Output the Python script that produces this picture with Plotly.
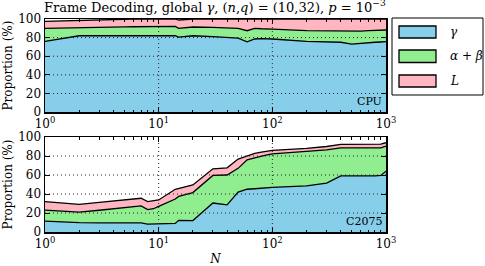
import plotly.graph_objects as go

N = [1, 2, 3, 4, 5, 6, 7, 8, 9, 10, 14, 15, 20, 30, 40, 50, 60, 70, 80, 90,
     100, 200, 300, 400, 500, 600, 700, 800, 900, 1000]

# CPU panel (proportions in %)
cpu_gamma = [76, 82, 82, 82, 82.3, 82.3, 82.5, 82.5, 82.5, 82.5, 82, 80.6, 82, 81, 80.5,
             79.5, 75.5, 78.5, 79, 79, 78.5, 76, 75.5, 75, 73, 74, 74.5, 75, 75.3, 75.6]
cpu_ab = [14, 9, 9.3, 9.5, 9.3, 9.4, 9.3, 9.3, 9.3, 9.5, 10, 9.4, 9.4, 10, 10,
          10.5, 11.9, 11.5, 10.5, 10.5, 10.7, 11.5, 11.9, 12.4, 13.7, 13, 13, 13, 12.7, 12.6]
cpu_L = [7.5, 7.7, 8.2, 8.3, 8.4, 8.3, 8.2, 8.2, 8.2, 8, 8, 8.9, 8.6, 9, 9.5,
         10, 12.6, 10, 10.5, 10.5, 10.8, 12.5, 12.6, 12.6, 13.3, 13, 12.5, 12, 12, 11.8]

# C2075 panel (proportions in %)
gpu_gamma = [11.5, 9.8, 9.7, 9.6, 9.6, 9.5, 9.5, 8.3, 8.3, 9, 9, 12.3, 12, 30.5, 28.5,
             42, 45, 45.5, 46, 46.5, 47, 48.5, 51.5, 59, 59, 58.5, 58.5, 59, 59.5, 64]
gpu_ab = [11.5, 11.2, 13.2, 15, 16.1, 17.1, 18, 15.2, 16.2, 18, 25.7, 25.2, 29.5, 29, 31.5,
          25, 31, 32.5, 34, 34.7, 35.3, 36.1, 35, 29.5, 29.5, 29.5, 29.5, 29, 29, 26.5]
gpu_L = [9, 8, 8.2, 8, 8.1, 8.1, 8, 8.5, 8, 6.7, 10.3, 8.5, 8, 7, 7.5,
         9.8, 4.5, 4.8, 4, 3.8, 3.7, 3.4, 3.5, 3.8, 3.8, 4.3, 4.3, 4.3, 4, 3.5]

names = ["<i>γ</i>", "<i>α</i> + <i>β</i>", "<i>L</i>"]
colors = ["#87CEEB", "#90EE90", "#FFB6C1"]

x_ticks = [1, 10, 100, 1000]
x_ticktext = ["10<sup>0</sup>", "10<sup>1</sup>", "10<sup>2</sup>", "10<sup>3</sup>"]
minor_vals = [m * 10 ** d for d in range(3) for m in range(2, 10)]
y_ticks = [0, 20, 40, 60, 80, 100]
x_grid = [10, 100]
y_grid = [20, 40, 60, 80]

FONT = "DejaVu Serif"
W, H = 485, 266
ML, MR, MT, MB = 45, 99, 19, 34
PW, PH = W - ML - MR, H - MT - MB

def px2paper(x, y):
    return (x - ML) / PW, (H - MB - y) / PH

fig = go.Figure()

for vals, name, col in zip([cpu_gamma, cpu_ab, cpu_L], names, colors):
    fig.add_trace(go.Scatter(x=N, y=vals, stackgroup="cpu", name=name, mode="lines",
                             line=dict(color="black", width=1.3), fillcolor=col,
                             showlegend=False, xaxis="x", yaxis="y"))
for vals, name, col in zip([gpu_gamma, gpu_ab, gpu_L], names, colors):
    fig.add_trace(go.Scatter(x=N, y=vals, stackgroup="gpu", name=name, mode="lines",
                             line=dict(color="black", width=1.3), fillcolor=col,
                             showlegend=False, xaxis="x2", yaxis="y2"))

top_dom = [0.563, 1.0]
bot_dom = [0.0, 0.446]

def xaxis(anchor, title=None):
    d = dict(type="log", range=[0, 3], domain=[0, 1], anchor=anchor, automargin=False,
             tickvals=x_ticks, ticktext=x_ticktext, ticks="inside", ticklen=5,
             tickcolor="black", mirror="allticks", showline=True, linecolor="black",
             linewidth=1.5, showgrid=False, layer="above traces",
             tickfont=dict(family=FONT, size=12, color="black"), zeroline=False,
             minor=dict(tickvals=minor_vals, ticks="inside", ticklen=2.5, tickcolor="black",
                        showgrid=False))
    if title:
        d["title"] = dict(text=title, font=dict(family=FONT, size=12, color="black"), standoff=10)
    return d

def yaxis(dom, anchor):
    return dict(range=[0, 100], domain=dom, anchor=anchor, tickvals=y_ticks, automargin=False,
                ticks="inside", ticklen=5, tickcolor="black", mirror="allticks",
                showline=True, linecolor="black", linewidth=1.5, showgrid=False,
                zeroline=False, layer="above traces",
                tickfont=dict(family=FONT, size=12, color="black"),
                title=dict(text="Proportion (%)", font=dict(family=FONT, size=12, color="black"),
                           standoff=3))

shapes = []
grid_line = dict(color="#222222", width=1, dash="1px,3px")
for xr, yr in [("x", "y"), ("x2", "y2")]:
    for gx in x_grid:
        shapes.append(dict(type="line", xref=xr, yref=yr + " domain", x0=gx, x1=gx,
                           y0=0, y1=1, line=grid_line, layer="above"))
    for gy in y_grid:
        shapes.append(dict(type="line", xref=xr + " domain", yref=yr, x0=0, x1=1,
                           y0=gy, y1=gy, line=grid_line, layer="above"))

# legend drawn as a boxed key
lx0, ly0 = px2paper(392, 18)
lx1, ly1 = px2paper(483, 95)
shapes.append(dict(type="rect", xref="paper", yref="paper", x0=lx0, x1=lx1, y0=ly1, y1=ly0,
                   line=dict(color="black", width=1), fillcolor="white", layer="above"))
annotations = []
sw_y = [(26, 38), (50, 62.5), (75, 87)]
for (ya, yb), name, col in zip(sw_y, names, colors):
    sx0, sy0 = px2paper(399, ya)
    sx1, sy1 = px2paper(436, yb)
    shapes.append(dict(type="rect", xref="paper", yref="paper", x0=sx0, x1=sx1, y0=sy1, y1=sy0,
                       line=dict(color="black", width=1.3), fillcolor=col, layer="above"))
    tx, ty = px2paper(448, (ya + yb) / 2)
    annotations.append(dict(text=name, xref="paper", yref="paper", x=tx, y=ty,
                            xanchor="left", yanchor="middle", showarrow=False,
                            font=dict(family=FONT, size=12, color="black")))

annotations += [
    dict(text="CPU", xref="paper", yref="paper", x=0.995, y=top_dom[0] + 0.01,
         xanchor="right", yanchor="bottom", showarrow=False,
         font=dict(family=FONT, size=11, color="black")),
    dict(text="C2075", xref="paper", yref="paper", x=0.995, y=bot_dom[0] + 0.01,
         xanchor="right", yanchor="bottom", showarrow=False,
         font=dict(family=FONT, size=11, color="black")),
]

fig.update_layout(
    width=W, height=H,
    margin=dict(l=ML, r=MR, t=MT, b=MB),
    paper_bgcolor="white", plot_bgcolor="white",
    font=dict(family=FONT, size=12, color="black"),
    title=dict(text="Frame Decoding, global <i>γ</i>, (<i>n</i>,<i>q</i>) = (10,32), <i>p</i> = 10<sup>−3</sup>",
               x=0.443, xanchor="center", y=1 - 2.5 / H, yanchor="top",
               font=dict(family=FONT, size=13, color="black")),
    xaxis=xaxis("y"),
    yaxis=yaxis(top_dom, "x"),
    xaxis2=xaxis("y2", "<i>N</i>"),
    yaxis2=yaxis(bot_dom, "x2"),
    showlegend=False,
    hovermode=False,
    shapes=shapes,
    annotations=annotations,
)

fig.write_html("out.html", config={"displayModeBar": False, "staticPlot": True},
               post_script="document.body.style.margin='0';document.body.style.overflow='hidden';")
